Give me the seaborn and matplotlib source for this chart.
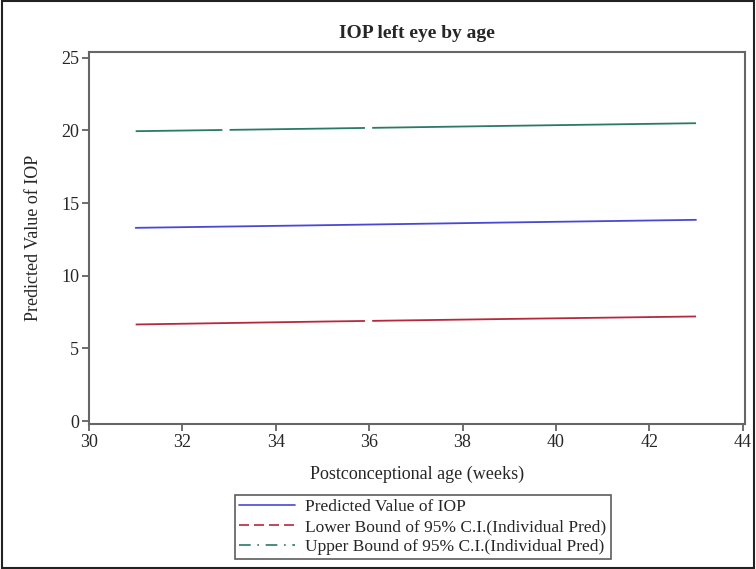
import matplotlib
matplotlib.use("Agg")
import matplotlib.pyplot as plt
import seaborn as sns
import pandas as pd
from matplotlib.lines import Line2D
from matplotlib.patches import Rectangle

age = [31, 35, 39, 43]
predicted = [13.30, 13.48, 13.67, 13.85]
lower = [6.65, 6.85, 7.03, 7.20]
upper = [19.95, 20.13, 20.32, 20.50]
labels = ["Predicted Value of IOP",
          "Lower Bound of 95% C.I.(Individual Pred)",
          "Upper Bound of 95% C.I.(Individual Pred)"]
xticks = [30, 32, 34, 36, 38, 40, 42, 44]
yticks = [0, 5, 10, 15, 20, 25]

sns.set_theme(style="white")
plt.rcParams['font.family'] = ['Liberation Serif', 'DejaVu Serif']

colors = ["#4848d8", "#b8283c", "#2a7a66"]

df = pd.DataFrame({
    "age": age * 3,
    "value": predicted + lower + upper,
    "series": [labels[0]] * len(age) + [labels[1]] * len(age) + [labels[2]] * len(age),
})

fig = plt.figure(figsize=(7.56, 5.69), dpi=100)
ax = fig.add_axes([89 / 756, 1 - 424 / 569, (745 - 89) / 756, (424 - 52) / 569])

sns.lineplot(data=df, x="age", y="value", hue="series", palette=colors,
             ax=ax, legend=False, linewidth=1.3)
ax.lines[1].set_dashes([127, 4, 400, 4])
ax.lines[2].set_dashes([48, 4, 75, 4, 400, 4])

ax.set_xlim(30, 44.05)
ax.set_ylim(-0.2, 25.4)
ax.set_xticks(xticks)
ax.set_yticks(yticks)
ax.tick_params(axis="both", direction="out", length=5, width=1.2, color="#555555",
               labelsize=13, pad=2, bottom=True, left=True)
for s in ax.spines.values():
    s.set_color("#666666")
    s.set_linewidth(1.5)

ax.set_xlabel("Postconceptional age (weeks)", fontsize=13, labelpad=11)
ax.set_ylabel("Predicted Value of IOP", fontsize=13, labelpad=14)
ax.set_title("IOP left eye by age", fontsize=14, fontweight="bold", pad=10)

handles = [
    Line2D([], [], color=colors[0], lw=1.2),
    Line2D([], [], color=colors[1], lw=1.2, dashes=[6, 3]),
    Line2D([], [], color=colors[2], lw=1.2, dashes=[7, 4, 1, 4]),
]
leg = fig.legend(handles, labels, loc="center", bbox_to_anchor=(423 / 756, 1 - 527 / 569),
                 frameon=True, fontsize=12.5, handlelength=3.2, handletextpad=0.6,
                 borderpad=0.25, labelspacing=0.2, fancybox=False, borderaxespad=0)
leg.get_frame().set_edgecolor("#333333")
leg.get_frame().set_linewidth(1.2)

fig.patches.append(Rectangle((0.002, 0.002), 0.996, 0.996, transform=fig.transFigure,
                             fill=False, edgecolor="#222222", linewidth=1.5))

fig.savefig("out.png", dpi=100)
